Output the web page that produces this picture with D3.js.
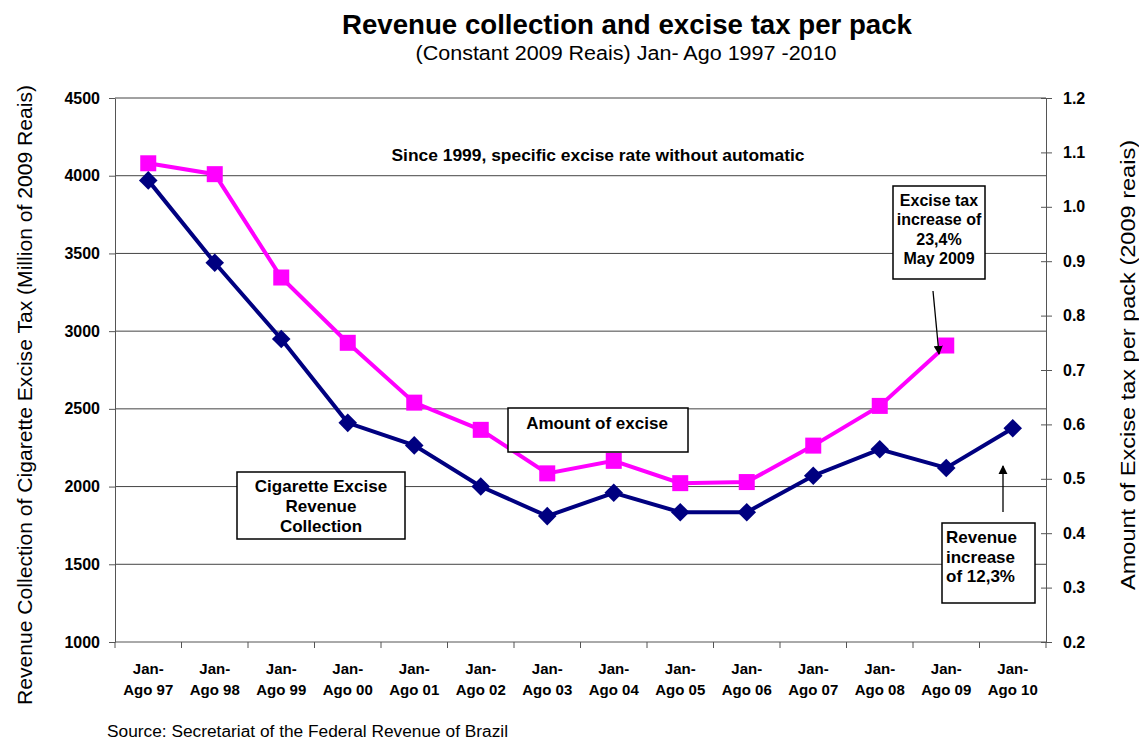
<!DOCTYPE html>
<head>
  <meta charset="utf-8">
  <title>Revenue collection and excise tax per pack</title>
  <script src="https://d3js.org/d3.v7.min.js"></script>
  <style>
    body { margin: 0px; background: white; }
    text { font-family: "Liberation Sans", Arial, sans-serif; fill: black; }
    .axis text { font-size: 16px; font-weight: bold; }
    .axis path, .axis line { stroke: #555; }
    .grid line { stroke: #444; stroke-width: 1; }
    .box rect { fill: white; stroke: black; stroke-width: 1.5; }
    .box text { font-size: 17px; font-weight: bold; }
  </style>
</head>
<body>
  <svg width="1139" height="740"></svg>
  <script>
    // data
    var periods = ["97", "98", "99", "00", "01", "02", "03", "04", "05", "06", "07", "08", "09", "10"];
    var revenue = [3970, 3440, 2950, 2410, 2265, 2000, 1810, 1960, 1835, 1835, 2070, 2240, 2120, 2375];
    var taxPerPack = [1.08, 1.06, 0.87, 0.75, 0.64, 0.59, 0.51, 0.533, 0.492, 0.494, 0.561, 0.634, 0.745, null];
    var leftTicks = [1000, 1500, 2000, 2500, 3000, 3500, 4000, 4500];
    var rightTicks = [0.2, 0.3, 0.4, 0.5, 0.6, 0.7, 0.8, 0.9, 1.0, 1.1, 1.2];

    var svg = d3.select("svg");
    var plot = { left: 115, right: 1046, top: 98, bottom: 642 };

    var x = d3.scaleBand().domain(periods).range([plot.left, plot.right]).padding(0);
    var yL = d3.scaleLinear().domain([1000, 4500]).range([plot.bottom, plot.top]);
    var yR = d3.scaleLinear().domain([0.2, 1.2]).range([plot.bottom, plot.top]);
    function cx(p) { return x(p) + x.bandwidth() / 2; }

    // titles
    svg.append("text")
      .attr("x", 627).attr("y", 34).attr("text-anchor", "middle")
      .attr("textLength", 570).attr("lengthAdjust", "spacingAndGlyphs")
      .style("font-size", "28px").style("font-weight", "bold")
      .text("Revenue collection and excise tax per pack");
    svg.append("text")
      .attr("x", 626).attr("y", 60).attr("text-anchor", "middle")
      .attr("textLength", 421).attr("lengthAdjust", "spacingAndGlyphs")
      .style("font-size", "20px")
      .text("(Constant 2009 Reais) Jan- Ago 1997 -2010");

    // gridlines
    svg.append("g").attr("class", "grid")
      .selectAll("line").data(leftTicks.slice(1)).enter().append("line")
      .attr("x1", plot.left).attr("x2", plot.right)
      .attr("y1", function(d) { return yL(d); }).attr("y2", function(d) { return yL(d); });

    // left axis
    svg.append("g").attr("class", "axis")
      .attr("transform", "translate(" + plot.left + ",0)")
      .call(d3.axisLeft(yL).tickValues(leftTicks).tickFormat(d3.format("d"))
        .tickSize(6).tickSizeOuter(0).tickPadding(9));
    // right axis, ticks crossing the line
    var gr = svg.append("g").attr("class", "axis")
      .attr("transform", "translate(" + plot.right + ",0)")
      .call(d3.axisRight(yR).tickValues(rightTicks).tickFormat(d3.format(".1f"))
        .tickSize(6).tickSizeOuter(0).tickPadding(11));
    gr.selectAll(".tick line").attr("x1", -5);

    // bottom axis with ticks at category boundaries
    var gb = svg.append("g").attr("class", "axis");
    gb.append("line").attr("x1", plot.left).attr("x2", plot.right)
      .attr("y1", plot.bottom).attr("y2", plot.bottom).attr("stroke", "#555");
    gb.selectAll(".bt").data(periods.concat(["end"])).enter().append("line")
      .attr("x1", function(d, i) { return plot.left + i * x.bandwidth(); })
      .attr("x2", function(d, i) { return plot.left + i * x.bandwidth(); })
      .attr("y1", plot.bottom).attr("y2", plot.bottom + 6).attr("stroke", "#555");
    var lab = gb.selectAll(".lab").data(periods).enter().append("text")
      .attr("text-anchor", "middle")
      .style("font-size", "15px").style("font-weight", "bold");
    lab.append("tspan").attr("x", cx).attr("y", 674).text("Jan-");
    lab.append("tspan").attr("x", cx).attr("y", 695).text(function(d) { return "Ago " + d; });

    // axis titles
    svg.append("text").attr("transform", "translate(32,395) rotate(-90)")
      .attr("text-anchor", "middle").style("font-size", "20px")
      .attr("textLength", 620).attr("lengthAdjust", "spacingAndGlyphs")
      .text("Revenue Collection of Cigarette Excise Tax (Million of 2009 Reais)");
    svg.append("text").attr("transform", "translate(1135,365) rotate(-90)")
      .attr("text-anchor", "middle").style("font-size", "20px")
      .attr("textLength", 450).attr("lengthAdjust", "spacingAndGlyphs")
      .text("Amount of Excise tax per pack (2009 reais)");

    // lines
    var navy = "#000080", magenta = "#ff00ff";
    var lineL = d3.line().x(function(d) { return cx(d.p); }).y(function(d) { return yL(d.v); });
    var lineR = d3.line().defined(function(d) { return d.v != null; })
      .x(function(d) { return cx(d.p); }).y(function(d) { return yR(d.v); });
    var revData = periods.map(function(p, i) { return { p: p, v: revenue[i] }; });
    var taxData = periods.map(function(p, i) { return { p: p, v: taxPerPack[i] }; });

    svg.append("path").datum(taxData).attr("d", lineR)
      .attr("fill", "none").attr("stroke", magenta).attr("stroke-width", 4);
    svg.append("g").selectAll("rect").data(taxData.filter(function(d) { return d.v != null; }))
      .enter().append("rect")
      .attr("x", function(d) { return cx(d.p) - 8; }).attr("y", function(d) { return yR(d.v) - 8; })
      .attr("width", 16).attr("height", 16).attr("fill", magenta);

    svg.append("path").datum(revData).attr("d", lineL)
      .attr("fill", "none").attr("stroke", navy).attr("stroke-width", 4);
    svg.append("g").selectAll("path").data(revData).enter().append("path")
      .attr("d", d3.symbol(d3.symbolDiamond2, 220))
      .attr("transform", function(d) { return "translate(" + cx(d.p) + "," + yL(d.v) + ")"; })
      .attr("fill", navy);

    // annotations
    svg.append("text").attr("x", 598).attr("y", 161).attr("text-anchor", "middle")
      .attr("textLength", 413).attr("lengthAdjust", "spacingAndGlyphs")
      .style("font-size", "16px").style("font-weight", "bold")
      .text("Since 1999, specific excise rate without automatic");

    function box(x0, y0, w, h, lines, opts) {
      var g = svg.append("g").attr("class", "box");
      g.append("rect").attr("x", x0).attr("y", y0).attr("width", w).attr("height", h);
      var t = g.append("text").attr("text-anchor", opts.anchor || "middle");
      if (opts.size) t.style("font-size", opts.size);
      lines.forEach(function(s, i) {
        t.append("tspan").attr("x", opts.tx).attr("y", opts.ty + i * opts.lh).text(s);
      });
    }
    box(508, 408, 180, 44, ["Amount of excise"], { tx: 597, ty: 429, lh: 20 });
    box(237, 472, 168, 67, ["Cigarette Excise", "Revenue", "Collection"], { tx: 321, ty: 492, lh: 20 });
    box(893, 186, 92, 93, ["Excise tax", "increase of", "23,4%", "May 2009"], { tx: 939, ty: 206, lh: 19.3, size: "16px" });
    box(942, 523, 93, 80, ["Revenue", "increase", "of 12,3%"], { tx: 946, ty: 543, lh: 19.5, anchor: "start" });

    // arrows
    var defs = svg.append("defs");
    defs.append("marker").attr("id", "arr").attr("viewBox", "0 0 10 10")
      .attr("refX", 9).attr("refY", 5).attr("markerWidth", 7).attr("markerHeight", 7)
      .attr("orient", "auto")
      .append("path").attr("d", "M0,0 L10,5 L0,10 z").attr("fill", "black");
    svg.append("line").attr("x1", 933).attr("y1", 291).attr("x2", 939).attr("y2", 354)
      .attr("stroke", "black").attr("stroke-width", 1.3).attr("marker-end", "url(#arr)");
    svg.append("line").attr("x1", 1003).attr("y1", 512).attr("x2", 1003).attr("y2", 466)
      .attr("stroke", "black").attr("stroke-width", 1.3).attr("marker-end", "url(#arr)");

    svg.append("text").attr("x", 107).attr("y", 737)
      .attr("textLength", 401).attr("lengthAdjust", "spacingAndGlyphs")
      .style("font-size", "16px")
      .text("Source: Secretariat of the Federal Revenue of Brazil");
  </script>
</body>
</html>
